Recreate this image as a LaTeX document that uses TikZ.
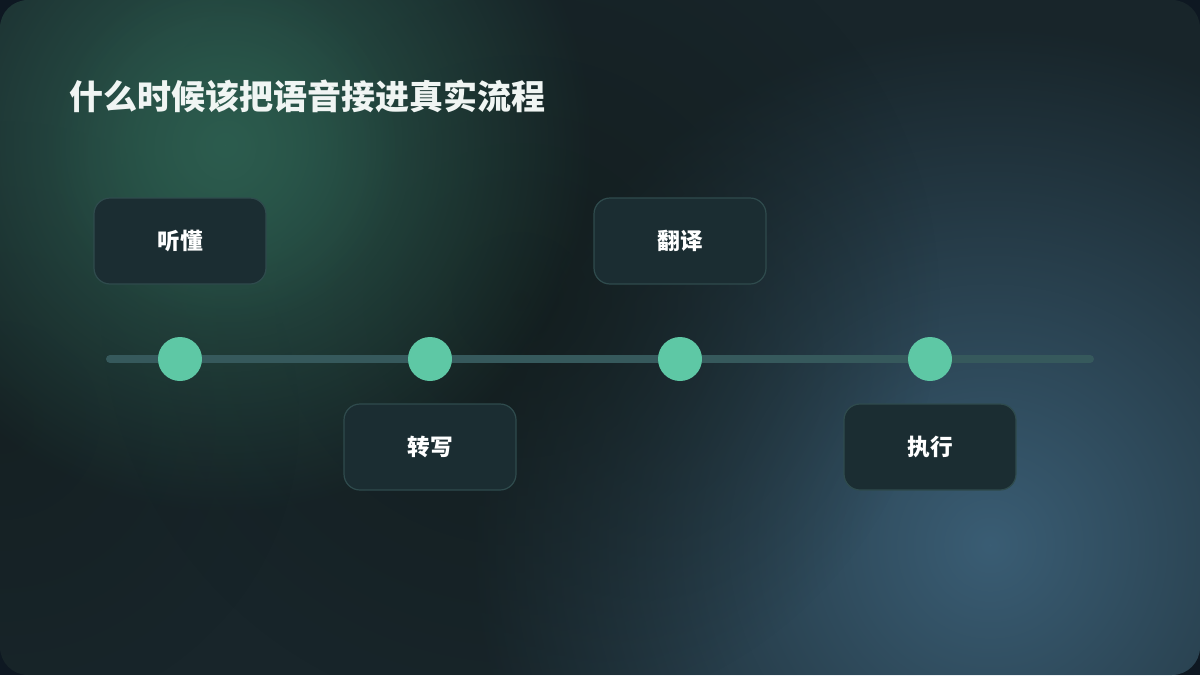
\documentclass[tikz,border=0pt]{standalone}
\usepackage{fontspec}
\setmainfont{Noto Sans CJK SC}
\usetikzlibrary{fadings}
\definecolor{outer}{HTML}{0E1822}
\definecolor{basebg}{HTML}{18252A}
\definecolor{glowgreen}{HTML}{2C5C4E}
\definecolor{glowblue}{HTML}{3A5D74}
\definecolor{darkmid}{HTML}{121C1C}
\definecolor{boxfill}{HTML}{1B2D32}
\definecolor{boxline}{HTML}{2F4B4D}
\definecolor{track}{HTML}{36595C}
\definecolor{dot}{HTML}{5EC8A5}
\definecolor{titlec}{HTML}{F0F5F3}
\tikzfading[name=glowfade, inner color=transparent!0, outer color=transparent!100]
\tikzset{
  stagebox/.style={draw=boxline, line width=0.9pt, fill=boxfill, rounded corners=12pt,
    minimum width=129pt, minimum height=64.5pt, inner sep=0pt,
    text=white, font=\fontsize{17}{20}\selectfont\bfseries},
  dotnode/.style={circle, fill=dot, minimum size=33pt, inner sep=0pt},
  trackline/.style={draw=track, line width=6pt, line cap=round}
}
\begin{document}
\begin{tikzpicture}[x=0.75pt,y=-0.75pt]
\useasboundingbox (0,0) rectangle (1200,675);
\fill[outer] (0,0) rectangle (1200,675);
\begin{scope}
\clip[rounded corners=21pt] (0,0) rectangle (1200,675);
\fill[basebg] (0,0) rectangle (1200,675);
\fill[glowblue, path fading=glowfade] (990,545) circle (520);
\fill[darkmid, path fading=glowfade, opacity=0.8] (520,300) circle (420);
\fill[darkmid, path fading=glowfade, opacity=0.5] (0,420) circle (300);
\fill[glowgreen, path fading=glowfade] (225,145) circle (370);
\fill[glowgreen, path fading=glowfade, opacity=0.6] (225,150) circle (180);
\end{scope}
\node[anchor=west, text=titlec, font=\fontsize{25.5}{30}\selectfont\bfseries] (title) at (65,96) {什么时候该把语音接进真实流程};
\coordinate (ts) at (110,359);
\coordinate (te) at (1090,359);
\draw[trackline] (ts) -- (te);
\node[dotnode] (d1) at (180,359) {};
\node[dotnode] (d2) at (430,359) {};
\node[dotnode] (d3) at (680,359) {};
\node[dotnode] (d4) at (930,359) {};
\node[stagebox] (b1) at (180,241) {听懂};
\node[stagebox] (b2) at (430,447) {转写};
\node[stagebox] (b3) at (680,241) {翻译};
\node[stagebox] (b4) at (930,447) {执行};
\end{tikzpicture}
\end{document}
